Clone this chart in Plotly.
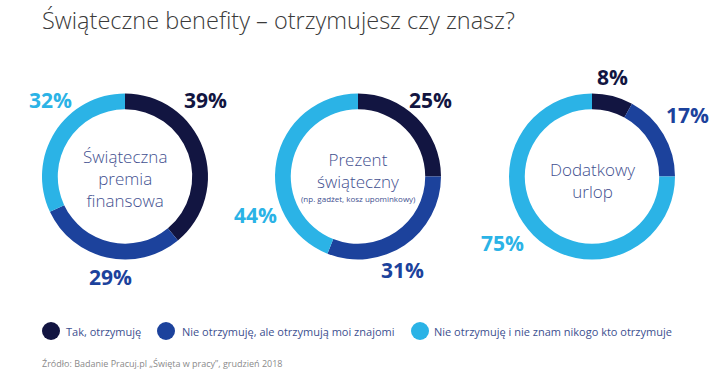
import plotly.graph_objects as go

categories = ["Tak, otrzymuję", "Nie otrzymuję, ale otrzymują moi znajomi",
              "Nie otrzymuję i nie znam nikogo kto otrzymuje"]
premia = [39, 29, 32]
prezent = [25, 31, 44]
urlop = [8, 17, 75]
chart_names = ["Świąteczna<br>premia<br>finansowa", "Prezent<br>świąteczny", "Dodatkowy<br>urlop"]
subnote = "(np. gadżet, kosz upominkowy)"
title = "Świąteczne benefity – otrzymujesz czy znasz?"
source = "Źródło: Badanie Pracuj.pl „Święta w pracy”, grudzień 2018"

colors = ["#121541", "#1c429c", "#2bb3e6"]
W, H = 727, 378
FONT = "Open Sans"

# donut centres / radius in pixels (layout)
centers = [(125, 176.5), (358, 176.5), (592, 176.5)]
R = 83
# label positions in pixels (layout)
label_pos = [
    [(205, 100), (110, 277), (50, 100)],
    [(430, 100), (402, 270), (255, 215)],
    [(612, 77), (687, 115), (502, 243)],
]
center_y = [179, 171, 180.5]
# legend layout (pixels): dot centre x, text start x
legend_dot_x = [51, 166, 420]
legend_text_x = [64, 180, 432]
legend_y = 331


def px(x):
    return x / W


def py(y):
    return 1 - y / H


fig = go.Figure()
for vals, (cx, cy) in zip([premia, prezent, urlop], centers):
    fig.add_trace(go.Pie(
        values=vals, labels=categories, sort=False, direction="clockwise",
        rotation=0, hole=0.81, textinfo="none", hoverinfo="label+percent",
        marker=dict(colors=colors, line=dict(width=0)), showlegend=False,
        domain=dict(x=[px(cx - R), px(cx + R)], y=[py(cy + R), py(cy - R)]),
    ))

ann = []
shapes = []
for vals, positions in zip([premia, prezent, urlop], label_pos):
    for v, (lx, ly), c in zip(vals, positions, colors):
        ann.append(dict(text=f"{v}%", x=px(lx), y=py(ly), xref="paper", yref="paper",
                        showarrow=False, xanchor="center", yanchor="middle",
                        font=dict(family=FONT, size=21, color=c, weight=700)))

center_color = "#42508f"
for name, (cx, _), cyy in zip(chart_names, centers, center_y):
    ann.append(dict(text=name, x=px(cx), y=py(cyy), xref="paper", yref="paper",
                    showarrow=False, xanchor="center", yanchor="middle",
                    font=dict(family=FONT, size=17, color=center_color, weight=300)))
ann.append(dict(text=subnote, x=px(centers[1][0]), y=py(198),
                xref="paper", yref="paper", showarrow=False, xanchor="center", yanchor="middle",
                font=dict(family=FONT, size=8, color=center_color)))

ann.append(dict(text=title, x=px(40), y=py(20), xref="paper", yref="paper", showarrow=False,
                xanchor="left", yanchor="middle",
                font=dict(family=FONT, size=23.5, color="#3a3a3a", weight=300)))
ann.append(dict(text=source, x=px(40), y=py(363), xref="paper", yref="paper", showarrow=False,
                xanchor="left", yanchor="middle",
                font=dict(family=FONT, size=9, color="#8a8a8a")))

# legend (circles + labels)
r_dot = 9
for name, c, dx, tx in zip(categories, colors, legend_dot_x, legend_text_x):
    shapes.append(dict(type="circle", xref="paper", yref="paper",
                       x0=px(dx - r_dot), x1=px(dx + r_dot),
                       y0=py(legend_y + r_dot), y1=py(legend_y - r_dot),
                       fillcolor=c, line=dict(width=0)))
    ann.append(dict(text=name, x=px(tx), y=py(legend_y), xref="paper", yref="paper",
                    showarrow=False, xanchor="left", yanchor="middle",
                    font=dict(family=FONT, size=11, color="#3c4f8f")))

fig.update_layout(
    width=W, height=H, margin=dict(l=0, r=0, t=0, b=0),
    paper_bgcolor="white", plot_bgcolor="white",
    xaxis=dict(visible=False), yaxis=dict(visible=False),
    annotations=ann, shapes=shapes, showlegend=False,
)

fig.write_html("out.html", config={"displayModeBar": False},
               post_script="document.body.style.margin='0';")
